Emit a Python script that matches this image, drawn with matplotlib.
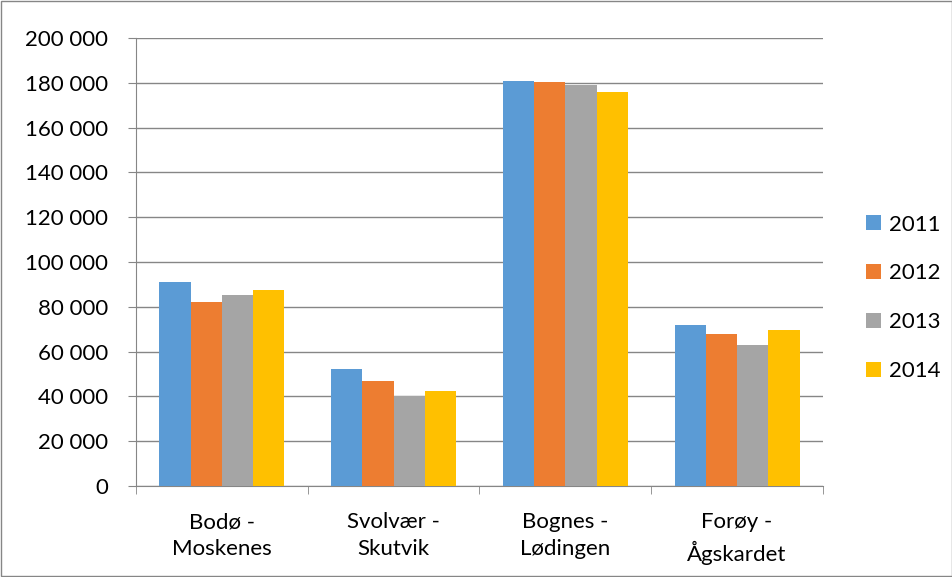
import matplotlib.pyplot as plt
import numpy as np

plt.rcParams['font.family'] = ['Lato', 'DejaVu Sans']

# Data
routes = ['Bodø -\nMoskenes', 'Svolvær -\nSkutvik', 'Bognes -\nLødingen', 'Forøy -\nÅgskardet']
years = ['2011', '2012', '2013', '2014']
v2011 = [91000, 52200, 180800, 72000]
v2012 = [82000, 47000, 180300, 67800]
v2013 = [85200, 40300, 179100, 62900]
v2014 = [87500, 42400, 175900, 69500]
colors = ['#5B9BD5', '#ED7D31', '#A5A5A5', '#FFC000']

fig = plt.figure(figsize=(9.53, 5.77), dpi=100)
ax = fig.add_axes([136/953, 1 - 486/577, (823 - 136)/953, (486 - 38)/577])

x = np.arange(len(routes))
w = 0.182
for i, (vals, yr) in enumerate(zip([v2011, v2012, v2013, v2014], years)):
    ax.bar(x + (i - 1.5) * w, vals, width=w, color=colors[i], label=yr, zorder=3)

ax.set_xlim(-0.5, 3.5)
ax.set_ylim(0, 200000)
ax.set_yticks(np.arange(0, 200001, 20000))
ax.set_yticklabels([f'{v:,}'.replace(',', ' ') for v in range(0, 200001, 20000)])
ax.yaxis.grid(True, color='#868686', linewidth=1, zorder=0)
ax.set_axisbelow(True)

ax.set_xticks(x)
ax.set_xticklabels(routes, linespacing=1.4)
ax.set_xticks(np.arange(-0.5, 4, 1), minor=True)
ax.tick_params(axis='x', which='major', length=0, pad=19, labelsize=16)
ax.tick_params(axis='x', which='minor', length=6, color='#868686')
ax.tick_params(axis='y', length=6, color='#868686', pad=14, labelsize=16)

for s in ['top', 'right']:
    ax.spines[s].set_visible(False)
for s in ['left', 'bottom']:
    ax.spines[s].set_color('#868686')

ax.legend(loc='center left', bbox_to_anchor=(1.033, 0.42), frameon=False,
          fontsize=16, handlelength=0.68, handleheight=0.68, labelspacing=1.3,
          handletextpad=0.35)

fig.patches.append(plt.Rectangle((0.001, 0.001), 0.998, 0.997, transform=fig.transFigure,
                                 fill=False, edgecolor='#868686', linewidth=1))

fig.savefig('out.png', dpi=100)
